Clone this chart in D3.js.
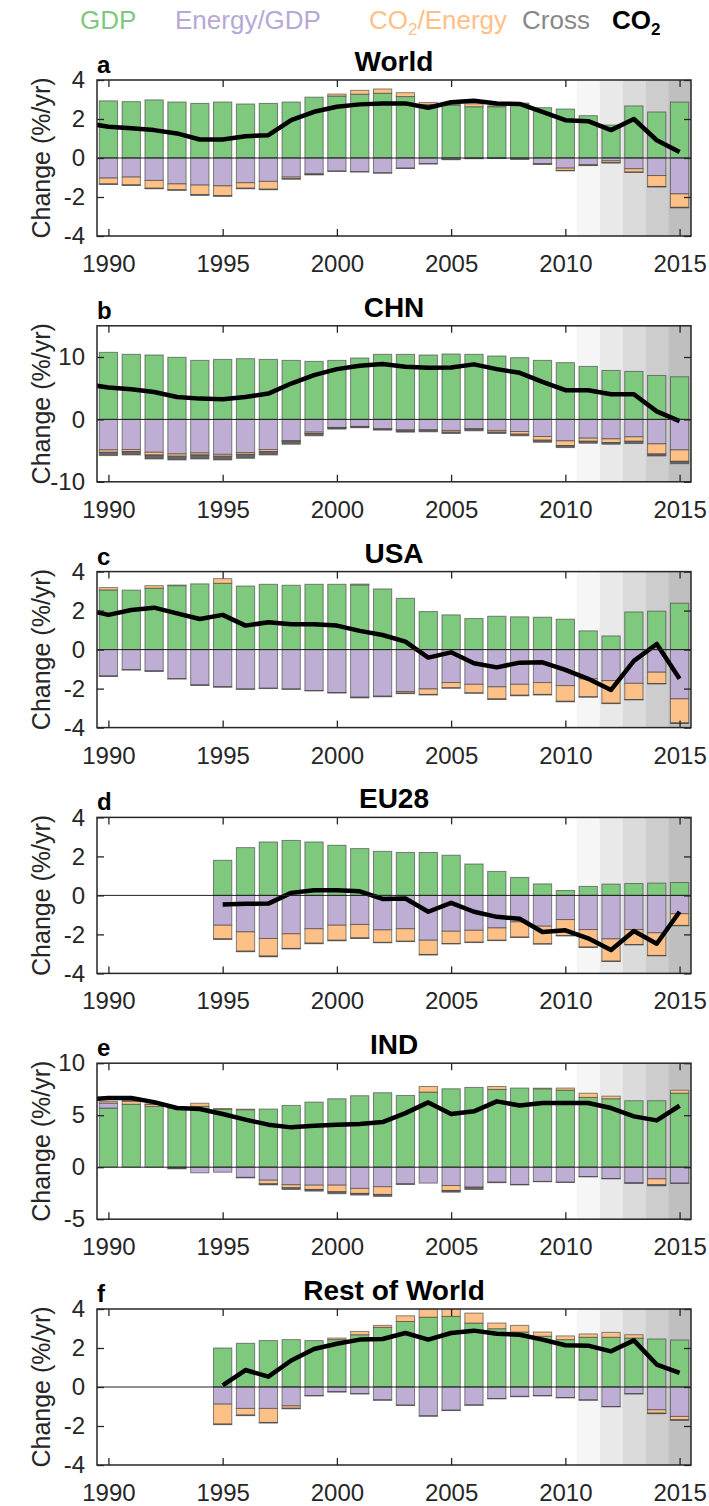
<!DOCTYPE html>
<html>
<head>
<meta charset="utf-8">
<script src="https://cdn.jsdelivr.net/npm/d3@7"></script>
<style>
  body { margin: 0; background: #fff; }
  text { font-family: "Liberation Sans", Arial, sans-serif; }
</style>
</head>
<body>
<svg id="chart" width="709" height="1506"></svg>
<script>
var years = [1990, 1991, 1992, 1993, 1994, 1995, 1996, 1997, 1998, 1999, 2000, 2001, 2002,
             2003, 2004, 2005, 2006, 2007, 2008, 2009, 2010, 2011, 2012, 2013, 2014, 2015];
var shadedYears = [2011, 2012, 2013, 2014, 2015];
var xTicks = [1990, 1995, 2000, 2005, 2010, 2015];

// World
var worldGdp = [2.93, 2.89, 2.98, 2.87, 2.80, 2.87, 2.77, 2.80, 2.87, 3.12, 3.18, 3.27, 3.32, 3.15, 2.75, 2.72, 2.63, 2.63, 2.77, 2.58, 2.51, 2.17, 1.69, 2.67, 2.36, 2.87];
var worldEnergy = [-1.03, -0.98, -1.15, -1.33, -1.39, -1.43, -1.27, -1.20, -0.98, -0.81, -0.67, -0.70, -0.76, -0.52, -0.29, -0.07, -0.02, -0.01, -0.05, -0.29, -0.52, -0.34, -0.15, -0.55, -0.90, -1.84];
var worldCarbon = [-0.30, -0.40, -0.40, -0.30, -0.49, -0.50, -0.28, -0.40, -0.08, -0.03, 0.10, 0.20, 0.22, 0.20, 0.10, 0.02, 0.15, 0.05, 0.05, -0.02, -0.12, -0.03, -0.09, -0.17, -0.56, -0.69];
var worldCross = [-0.03, -0.03, -0.03, -0.03, -0.04, -0.04, -0.03, -0.03, -0.03, -0.03, -0.02, -0.02, -0.02, -0.02, -0.02, -0.02, -0.02, -0.02, -0.02, -0.02, -0.02, -0.02, -0.02, -0.02, -0.03, -0.03];
var worldCo2 = [1.60, 1.52, 1.43, 1.26, 0.95, 0.95, 1.12, 1.17, 1.94, 2.37, 2.63, 2.75, 2.80, 2.80, 2.58, 2.86, 2.94, 2.80, 2.77, 2.37, 1.94, 1.89, 1.43, 2.00, 0.91, 0.31];

// China
var chnGdp = [10.75, 10.43, 10.32, 9.95, 9.46, 9.62, 9.73, 9.62, 9.46, 9.30, 9.46, 9.84, 10.43, 10.43, 10.32, 10.48, 10.43, 10.16, 9.89, 9.46, 9.09, 8.49, 7.85, 7.69, 7.04, 6.83];
var chnEnergy = [-4.89, -4.84, -5.27, -5.54, -5.38, -5.60, -5.32, -4.84, -3.39, -2.04, -1.29, -1.13, -1.50, -1.67, -1.67, -1.77, -1.50, -1.77, -1.94, -2.74, -3.44, -3.01, -3.12, -2.80, -3.92, -4.89];
var chnCarbon = [-0.38, -0.32, -0.43, -0.36, -0.32, -0.30, -0.28, -0.32, -0.11, -0.22, -0.05, -0.05, -0.05, -0.16, -0.05, -0.27, -0.05, -0.27, -0.43, -0.59, -0.75, -0.49, -0.59, -0.70, -1.62, -1.83];
var chnCross = [-0.53, -0.54, -0.64, -0.60, -0.64, -0.60, -0.64, -0.54, -0.48, -0.37, -0.22, -0.16, -0.17, -0.21, -0.27, -0.22, -0.28, -0.22, -0.26, -0.33, -0.33, -0.32, -0.27, -0.37, -0.32, -0.38];
var chnCo2 = [5.10, 4.84, 4.40, 3.60, 3.33, 3.22, 3.60, 4.14, 5.75, 7.10, 8.06, 8.60, 8.87, 8.44, 8.28, 8.33, 8.82, 8.06, 7.47, 6.02, 4.68, 4.68, 4.03, 4.03, 1.29, -0.27];

// USA
var usaGdp = [3.06, 3.05, 3.15, 3.28, 3.37, 3.40, 3.26, 3.35, 3.30, 3.35, 3.35, 3.32, 3.11, 2.63, 1.95, 1.78, 1.59, 1.71, 1.68, 1.66, 1.56, 0.96, 0.70, 1.93, 1.97, 2.38];
var usaEnergy = [-1.35, -1.03, -1.09, -1.49, -1.81, -1.90, -2.02, -1.98, -2.02, -2.10, -2.20, -2.44, -2.39, -2.15, -2.02, -1.69, -1.78, -1.91, -1.78, -1.69, -1.85, -1.50, -1.59, -1.73, -1.16, -2.53];
var usaCarbon = [0.12, 0, 0.13, 0.03, 0, 0.24, 0, 0, 0, 0, 0, 0.04, 0, -0.08, -0.28, -0.27, -0.44, -0.62, -0.56, -0.61, -0.80, -0.92, -1.16, -0.83, -0.58, -1.23];
var usaCross = [-0.03, -0.02, -0.03, -0.02, -0.03, -0.03, -0.02, -0.02, -0.02, -0.02, -0.03, -0.04, -0.03, -0.03, -0.03, -0.02, -0.02, -0.03, -0.03, -0.03, -0.03, -0.02, -0.02, -0.02, -0.02, -0.03];
var usaCo2 = [1.78, 2.03, 2.15, 1.86, 1.57, 1.78, 1.23, 1.40, 1.30, 1.30, 1.23, 0.96, 0.75, 0.41, -0.41, -0.14, -0.70, -0.91, -0.67, -0.65, -1.04, -1.50, -2.07, -0.58, 0.29, -1.50];

// EU28 (from 1995)
var euGdp = [null, null, null, null, null, 1.80, 2.45, 2.74, 2.82, 2.74, 2.57, 2.40, 2.26, 2.20, 2.20, 2.06, 1.61, 1.23, 0.92, 0.59, 0.25, 0.46, 0.58, 0.61, 0.63, 0.66];
var euEnergy = [null, null, null, null, null, -1.53, -1.87, -2.21, -1.97, -1.71, -1.53, -1.49, -1.77, -1.71, -2.30, -1.84, -1.79, -1.67, -1.36, -1.58, -1.24, -1.75, -2.23, -1.75, -1.92, -0.94];
var euCarbon = [null, null, null, null, null, -0.70, -0.99, -0.90, -0.75, -0.74, -0.77, -0.69, -0.64, -0.64, -0.73, -0.63, -0.61, -0.63, -0.78, -0.90, -0.82, -0.90, -1.14, -0.77, -1.16, -0.60];
var euCross = [null, null, null, null, null, -0.03, -0.03, -0.04, -0.03, -0.03, -0.03, -0.03, -0.02, -0.02, -0.03, -0.02, -0.02, -0.02, -0.02, -0.02, -0.02, -0.02, -0.02, -0.02, -0.02, -0.02];
var euCo2 = [null, null, null, null, null, -0.47, -0.43, -0.42, 0.13, 0.26, 0.26, 0.21, -0.18, -0.16, -0.84, -0.38, -0.84, -1.10, -1.20, -1.88, -1.79, -2.20, -2.80, -1.83, -2.48, -0.84];

// India
var indGdp = [5.69, 6.05, 5.85, 5.69, 5.85, 5.59, 5.53, 5.59, 5.94, 6.26, 6.58, 6.87, 7.16, 6.90, 7.22, 7.54, 7.67, 7.48, 7.61, 7.54, 7.41, 6.71, 6.58, 6.39, 6.39, 7.12];
var indEnergy = [0.48, 0, 0, -0.08, -0.54, -0.48, -0.98, -1.25, -1.69, -1.73, -1.73, -2.04, -1.88, -1.60, -1.53, -1.76, -1.92, -1.44, -1.66, -1.37, -1.44, -0.90, -1.09, -1.50, -1.12, -1.53];
var indCarbon = [0.16, 0.30, 0.20, 0, 0.30, 0.05, 0.05, -0.35, -0.29, -0.41, -0.63, -0.48, -0.74, 0, 0.54, -0.48, 0, 0.28, 0, 0.06, 0.20, 0.40, 0.25, 0, -0.57, 0.28];
var indCross = [0, 0.05, 0.03, -0.08, 0, 0, -0.05, -0.10, -0.16, -0.16, -0.19, -0.16, -0.19, -0.06, 0, -0.16, -0.22, -0.05, -0.05, -0.03, -0.03, -0.03, -0.03, -0.06, -0.10, -0.03];
var indCo2 = [6.65, 6.65, 6.26, 5.69, 5.59, 5.11, 4.57, 4.09, 3.83, 3.99, 4.09, 4.15, 4.34, 5.20, 6.23, 5.11, 5.37, 6.33, 5.94, 6.17, 6.17, 6.17, 5.69, 4.89, 4.50, 5.91];

// Rest of World (from 1995)
var rowGdp = [null, null, null, null, null, 2.00, 2.24, 2.38, 2.43, 2.38, 2.43, 2.68, 3.06, 3.36, 3.58, 3.62, 3.28, 2.99, 2.82, 2.60, 2.43, 2.55, 2.55, 2.51, 2.46, 2.41];
var rowEnergy = [null, null, null, null, null, -0.88, -1.10, -1.10, -0.97, -0.44, -0.24, -0.34, -0.66, -0.93, -1.48, -1.19, -0.92, -0.59, -0.48, -0.44, -0.54, -0.66, -1.00, -0.34, -1.17, -1.51];
var rowCarbon = [null, null, null, null, null, -1.02, -0.34, -0.72, -0.12, 0, 0.08, 0.17, 0.10, 0.29, 0.45, 0.40, 0.51, 0.29, 0.34, 0.22, 0.19, 0.17, 0.25, 0.17, -0.17, -0.17];
var rowCross = [null, null, null, null, null, -0.03, -0.03, -0.03, -0.03, -0.02, -0.02, -0.02, -0.02, -0.02, -0.02, -0.02, -0.02, -0.02, -0.02, -0.02, -0.02, -0.02, -0.02, -0.02, -0.03, -0.03];
var rowCo2 = [null, null, null, null, null, 0.08, 0.87, 0.53, 1.36, 1.95, 2.22, 2.43, 2.46, 2.77, 2.43, 2.77, 2.89, 2.73, 2.68, 2.43, 2.14, 2.12, 1.83, 2.39, 1.15, 0.73];

// CO2 value for 1989 (line enters from the left edge)
var co2Before = [1.80, 5.65, 2.05, null, 6.50, null];

var seriesColors = ["#7fc97f", "#beaed4", "#fdc086", "#666666"];
var legendColors = ["#7fc97f", "#b7a8d6", "#fdc086", "#888888"];
var shades = ["#f6f6f6", "#e9e9e9", "#dbdbdb", "#cdcdcd", "#bfbfbf"];

var panels = [
  {letter: "a", title: "World", domain: [-4, 4], ticks: [-4, -2, 0, 2, 4],
   series: [worldGdp, worldEnergy, worldCarbon, worldCross], co2: worldCo2},
  {letter: "b", title: "CHN", domain: [-10, 15], ticks: [-10, 0, 10],
   series: [chnGdp, chnEnergy, chnCarbon, chnCross], co2: chnCo2},
  {letter: "c", title: "USA", domain: [-4, 4], ticks: [-4, -2, 0, 2, 4],
   series: [usaGdp, usaEnergy, usaCarbon, usaCross], co2: usaCo2},
  {letter: "d", title: "EU28", domain: [-4, 4], ticks: [-4, -2, 0, 2, 4],
   series: [euGdp, euEnergy, euCarbon, euCross], co2: euCo2},
  {letter: "e", title: "IND", domain: [-5, 10], ticks: [-5, 0, 5, 10],
   series: [indGdp, indEnergy, indCarbon, indCross], co2: indCo2},
  {letter: "f", title: "Rest of World", domain: [-4, 4], ticks: [-4, -2, 0, 2, 4],
   series: [rowGdp, rowEnergy, rowCarbon, rowCross], co2: rowCo2}
];

var svg = d3.select("#chart");
var boxLeft = 97, boxRight = 691, boxH = 156;
var firstTop = 80, step = 245.8;
var ink = "#262626";

var x = d3.scaleLinear().domain([1989.5, 2015.5]).range([boxLeft, boxRight]);
var barW = (x(1991) - x(1990)) * 0.8;

// legend
function legendItem(xPos, color, main, sub, rest, bold) {
  var t = svg.append("text").attr("x", xPos).attr("y", 29)
      .attr("font-size", 26).attr("fill", color)
      .attr("font-weight", bold ? "bold" : "normal");
  t.append("tspan").text(main);
  if (sub) {
    t.append("tspan").attr("font-size", 17).attr("dy", 6).text(sub);
    if (rest) t.append("tspan").attr("dy", -6).text(rest);
  }
}
legendItem(80, legendColors[0], "GDP");
legendItem(175, legendColors[1], "Energy/GDP");
legendItem(369, legendColors[2], "CO", "2", "/Energy");
legendItem(522, legendColors[3], "Cross");
legendItem(612, "#000", "CO", "2", null, true);

panels.forEach(function(p, i) {
  var top = firstTop + i * step;
  var g = svg.append("g").attr("transform", "translate(0," + top + ")");
  var y = d3.scaleLinear().domain(p.domain).range([boxH, 0]);

  var clipId = "clip" + i;
  svg.append("defs").append("clipPath").attr("id", clipId)
    .append("rect").attr("x", boxLeft).attr("y", 0)
    .attr("width", boxRight - boxLeft).attr("height", boxH);

  var plot = g.append("g").attr("clip-path", "url(#" + clipId + ")");

  // shaded recent years
  plot.selectAll("rect.shade")
    .data(shadedYears)
    .enter().append("rect")
      .attr("class", "shade")
      .attr("x", function(d) { return x(d - 0.5); })
      .attr("width", function(d) { return x(d + 0.5) - x(d - 0.5); })
      .attr("y", 0)
      .attr("height", boxH)
      .attr("fill", function(d, k) { return shades[k]; });

  // stacked bars, positives up and negatives down
  var segs = [];
  years.forEach(function(yr, j) {
    var pos = 0, neg = 0;
    p.series.forEach(function(s, k) {
      var v = s[j];
      if (v == null || v === 0) return;
      if (v > 0) {
        segs.push({year: yr, y0: pos, y1: pos + v, k: k});
        pos += v;
      } else {
        segs.push({year: yr, y0: neg + v, y1: neg, k: k});
        neg += v;
      }
    });
  });

  plot.selectAll("rect.bar")
    .data(segs)
    .enter().append("rect")
      .attr("class", "bar")
      .attr("x", function(d) { return x(d.year) - barW / 2; })
      .attr("width", barW)
      .attr("y", function(d) { return y(d.y1); })
      .attr("height", function(d) { return y(d.y0) - y(d.y1); })
      .attr("fill", function(d) { return seriesColors[d.k]; })
      .attr("stroke", "#3a3a3a")
      .attr("stroke-opacity", 0.6)
      .attr("stroke-width", 1);

  // zero line
  g.append("line")
    .attr("x1", boxLeft).attr("x2", boxRight)
    .attr("y1", y(0)).attr("y2", y(0))
    .attr("stroke", "#222").attr("stroke-width", 1);

  // CO2 line
  var pts = years.map(function(yr, j) { return {year: yr, v: p.co2[j]}; });
  if (co2Before[i] != null) pts.unshift({year: 1989, v: co2Before[i]});
  var line = d3.line()
    .defined(function(d) { return d.v != null; })
    .x(function(d) { return x(d.year); })
    .y(function(d) { return y(d.v); });
  plot.append("path")
    .datum(pts)
    .attr("d", line)
    .attr("fill", "none")
    .attr("stroke", "#000")
    .attr("stroke-width", 4.5)
    .attr("stroke-linejoin", "round");

  // axes with inward ticks
  var bottom = g.append("g").attr("transform", "translate(0," + boxH + ")")
    .call(d3.axisBottom(x).tickValues(xTicks).tickFormat(d3.format("d"))
      .tickSizeInner(-7).tickSizeOuter(0).tickPadding(19));
  var topAx = g.append("g")
    .call(d3.axisTop(x).tickValues(xTicks).tickFormat("")
      .tickSizeInner(-7).tickSizeOuter(0));
  var left = g.append("g").attr("transform", "translate(" + boxLeft + ",0)")
    .call(d3.axisLeft(y).tickValues(p.ticks).tickFormat(d3.format("d"))
      .tickSizeInner(-7).tickSizeOuter(0).tickPadding(12));
  var right = g.append("g").attr("transform", "translate(" + boxRight + ",0)")
    .call(d3.axisRight(y).tickValues(p.ticks).tickFormat("")
      .tickSizeInner(-7).tickSizeOuter(0));

  [bottom, topAx, left, right].forEach(function(a) {
    a.select(".domain").remove();
    a.selectAll(".tick line").attr("stroke", ink).attr("stroke-width", 1.3);
    a.selectAll(".tick text")
      .attr("font-size", 24)
      .attr("fill", ink)
      .attr("font-family", "Liberation Sans, Arial, sans-serif");
  });
  left.selectAll(".tick text").text(function(d) { return d < 0 ? "-" + Math.abs(d) : d; });

  // frame
  g.append("rect")
    .attr("x", boxLeft).attr("y", 0)
    .attr("width", boxRight - boxLeft).attr("height", boxH)
    .attr("fill", "none").attr("stroke", ink).attr("stroke-width", 1.5);

  // titles
  g.append("text")
    .attr("x", boxLeft).attr("y", -7)
    .attr("font-size", 24).attr("font-weight", "bold").attr("fill", "#000")
    .text(p.letter);
  g.append("text")
    .attr("x", (boxLeft + boxRight) / 2).attr("y", -9)
    .attr("text-anchor", "middle")
    .attr("font-size", 28).attr("font-weight", "bold").attr("fill", "#000")
    .text(p.title);

  g.append("text")
    .attr("transform", "translate(50," + (boxH / 2) + ") rotate(-90)")
    .attr("text-anchor", "middle")
    .attr("font-size", 25).attr("fill", ink)
    .text("Change (%/yr)");
});
</script>
</body>
</html>
